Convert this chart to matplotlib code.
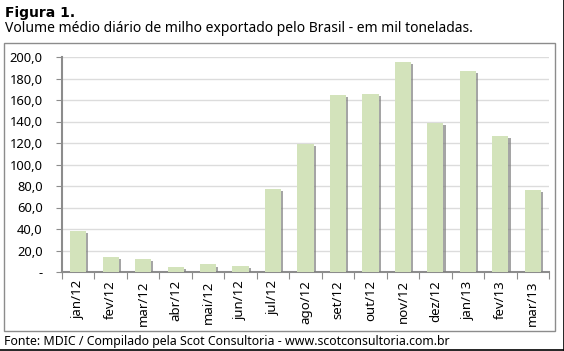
import matplotlib.pyplot as plt
import matplotlib.patheffects as pe
from matplotlib.patches import Rectangle
from matplotlib.lines import Line2D

plt.rcParams['font.family'] = ['Noto Sans', 'DejaVu Sans']

meses = ["jan/12", "fev/12", "mar/12", "abr/12", "mai/12", "jun/12", "jul/12",
         "ago/12", "set/12", "out/12", "nov/12", "dez/12", "jan/13", "fev/13", "mar/13"]
volume = [38.0, 14.2, 12.0, 4.6, 7.0, 6.0, 77.0, 119.0, 165.0, 166.0, 195.0,
          139.0, 187.0, 126.5, 76.0]
yticks = [0, 20, 40, 60, 80, 100, 120, 140, 160, 180, 200]
ytick_labels = ["-" if v == 0 else f"{v:.1f}".replace(".", ",") for v in yticks]

fig = plt.figure(figsize=(5.64, 3.51), dpi=100)
W, H = 564, 351

# moldura do gráfico
fig.add_artist(Rectangle((4 / W, 1 - 331 / H), 551 / W, 288 / H, transform=fig.transFigure,
                         fill=False, edgecolor="#8c8c8c", linewidth=1.0))
fig.add_artist(Line2D([0, 1], [1 - 349.5 / H] * 2, transform=fig.transFigure,
                      color="black", linewidth=1.2))
fig.add_artist(Line2D([1 - 0.5 / W] * 2, [1 - 349.5 / H, 1], transform=fig.transFigure,
                      color="black", linewidth=1.2))

ax = fig.add_axes([62 / W, 1 - 272 / H, 487 / W, 215 / H])
x = range(len(meses))
bars = ax.bar(x, volume, width=0.5, color="#d3e3bb", zorder=3)
for b in bars:
    b.set_path_effects([pe.SimplePatchShadow(offset=(1.5, -1.5), shadow_rgbFace="#7f7f7f", alpha=0.7),
                        pe.Normal()])

ax.set_xlim(-0.5, len(meses) - 0.5)
ax.set_ylim(0, 200)
ax.set_yticks(yticks)
ax.set_yticklabels(ytick_labels, fontsize=9.3)
ax.yaxis.grid(True, color="#dcdcdc", linewidth=1.0, zorder=0)
ax.set_xticks([i - 0.5 for i in range(len(meses) + 1)])
ax.set_xticklabels([])
ax.set_xticks(list(x), minor=True)
ax.set_xticklabels(meses, minor=True, rotation=90, fontsize=9.5)
ax.tick_params(axis="x", which="minor", length=0, pad=6)
ax.tick_params(axis="x", which="major", length=5, color="#8c8c8c", direction="out")
ax.tick_params(axis="y", length=4, color="#8c8c8c", direction="out", pad=10)
for s in ["top", "right"]:
    ax.spines[s].set_visible(False)
for s in ["left", "bottom"]:
    ax.spines[s].set_color("#8c8c8c")
    ax.spines[s].set_linewidth(1.5)

fig.text(5 / W, 1 - 13 / H, "Figura 1.", fontsize=10, fontweight="bold", va="center",
         family=["DejaVu Sans"])
fig.text(5 / W, 1 - 29 / H, "Volume médio diário de milho exportado pelo Brasil - em mil toneladas.",
         fontsize=10, va="center")
fig.text(4 / W, 1 - 341 / H, "Fonte: MDIC / Compilado pela Scot Consultoria - www.scotconsultoria.com.br",
         fontsize=8.9, va="center")

fig.savefig("out.png", dpi=100)
